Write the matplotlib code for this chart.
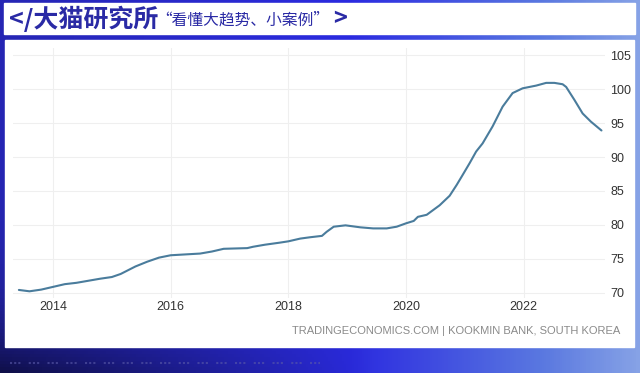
import matplotlib
matplotlib.use("Agg")
import matplotlib.pyplot as plt
import numpy as np
from matplotlib.patches import Rectangle
from matplotlib.colors import LinearSegmentedColormap

# ---- data (KB house price index, South Korea) ----
years = [2013.42, 2013.6, 2013.8, 2014.0, 2014.2, 2014.4, 2014.6, 2014.8, 2015.0, 2015.15,
         2015.4, 2015.6, 2015.8, 2016.0, 2016.3, 2016.5, 2016.7, 2016.9, 2017.1, 2017.3,
         2017.4, 2017.6, 2017.85, 2018.0, 2018.2, 2018.37, 2018.57, 2018.65, 2018.77, 2018.97,
         2019.22, 2019.44, 2019.67, 2019.84, 2020.0, 2020.13, 2020.2, 2020.35, 2020.46, 2020.57,
         2020.74, 2020.86, 2020.95, 2021.08, 2021.19, 2021.3, 2021.47, 2021.64, 2021.81, 2021.98,
         2022.21, 2022.38, 2022.52, 2022.66, 2022.72, 2022.86, 2023.0, 2023.14, 2023.32]
values = [70.45, 70.25, 70.5, 70.9, 71.3, 71.5, 71.8, 72.1, 72.35, 72.8,
          73.9, 74.6, 75.2, 75.55, 75.7, 75.8, 76.1, 76.5, 76.55, 76.6,
          76.8, 77.1, 77.4, 77.6, 78.0, 78.2, 78.4, 79.0, 79.75, 79.95,
          79.66, 79.5, 79.5, 79.75, 80.25, 80.6, 81.2, 81.5, 82.2, 82.9,
          84.3, 85.9, 87.2, 89.1, 90.8, 92.0, 94.5, 97.4, 99.4, 100.1,
          100.5, 100.9, 100.9, 100.7, 100.3, 98.4, 96.4, 95.2, 93.9]
x_ticks = [2014, 2016, 2018, 2020, 2022]
y_ticks = [70, 75, 80, 85, 90, 95, 100, 105]
title_main = "</大猫研究所"
title_sub = "“看懂大趋势、小案例”"
title_end = ">"
source = "TRADINGECONOMICS.COM | KOOKMIN BANK, SOUTH KOREA"

W, H = 640, 373
fig = plt.figure(figsize=(W / 100, H / 100), dpi=100)

def rect(x0, y0, x1, y1):
    return [x0 / W, (H - y1) / H, (x1 - x0) / W, (y1 - y0) / H]

# ---- background gradient ----
bg = fig.add_axes([0, 0, 1, 1])
bg.set_axis_off()
cmap = LinearSegmentedColormap.from_list(
    "bgc", [(0.0, "#2626b4"), (0.55, "#2b2be0"), (0.85, "#5a78e0"), (1.0, "#86a2e6")])
gx = np.linspace(0, 1, 320)
gy = np.linspace(0, 1, 120)
GX, GY = np.meshgrid(gx, gy)
img = cmap(GX)
dark = np.clip((1 - GX * 1.7), 0, 1) * GY ** 6 * 0.6
img[..., :3] = img[..., :3] * (1 - dark[..., None])
bg.imshow(img, extent=[0, 1, 0, 1], aspect="auto", origin="upper")
bg.set_xlim(0, 1)
bg.set_ylim(0, 1)

# header band and white panel
bg.add_patch(Rectangle((4 / W, (H - 34) / H), 631 / W, 31 / H, color="white", zorder=2))
bg.add_patch(Rectangle((5 / W, (H - 347) / H), 629 / W, 307 / H, color="white", zorder=2))
# decorative dotted strip
bg.plot([10 / W, 320 / W], [(H - 363) / H] * 2, color="#5a5aa8", lw=1.5,
        linestyle=(0, (1, 1, 1, 1, 1, 4)), zorder=3, alpha=0.6)

tc = "#2a2aa5"
fam = ["Noto Sans CJK SC", "DejaVu Sans"]
fig.text(9 / W, 1 - 19 / H, title_main, fontsize=18, fontweight="black", color=tc,
         family=fam, va="center", ha="left")
fig.text(156 / W, 1 - 20 / H, title_sub, fontsize=11.3, color=tc,
         family=fam, va="center", ha="left")
fig.text(333 / W, 1 - 19 / H, title_end, fontsize=17, fontweight="black", color=tc,
         family=fam, va="center", ha="left")

# ---- chart ----
ymin, ymax = 69.3, 106
ytop = 293 - (ymax - 70) * 6.8
ybot = 293 + (70 - ymin) * 6.8
ax = fig.add_axes(rect(13, ytop, 605, ybot))
ax.set_facecolor("none")
ax.plot(years, values, color="#4a7c9c", lw=1.5, solid_capstyle="round")
ax.set_xlim(2013.32, 2023.38)
ax.set_ylim(ymin, ymax)
ax.set_xticks(x_ticks)
ax.set_xticklabels([str(t) for t in x_ticks])
ax.set_yticks(y_ticks)
ax.set_yticklabels([str(t) for t in y_ticks])
ax.yaxis.tick_right()
for s in ax.spines.values():
    s.set_visible(False)
ax.grid(True, color="#efefef", lw=0.8)
ax.set_axisbelow(True)
lab_fam = ["Liberation Sans Narrow", "Liberation Sans", "DejaVu Sans"]
ax.tick_params(axis="both", length=0, labelsize=9, labelcolor="#333333")
ax.tick_params(axis="y", pad=4)
ax.tick_params(axis="x", pad=2)
for lab in ax.get_xticklabels() + ax.get_yticklabels():
    lab.set_family(lab_fam)

fig.text(620 / W, 1 - 331 / H, source, fontsize=8, color="#8a8a8a", family=lab_fam,
         ha="right", va="center")

fig.savefig("out.png", dpi=100)
